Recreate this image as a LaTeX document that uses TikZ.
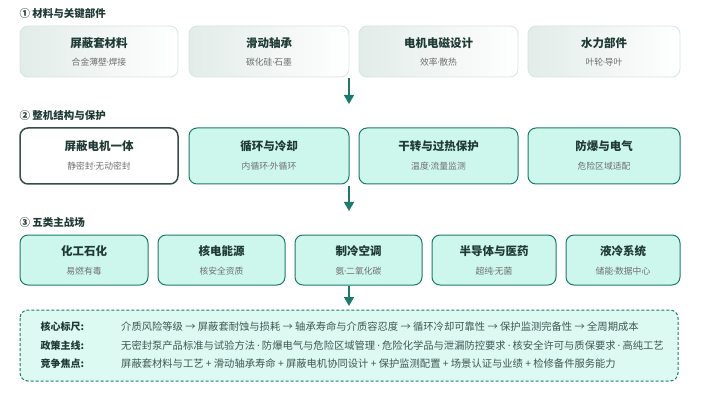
\documentclass[tikz,border=0pt]{standalone}
\usepackage{fontspec}
\setmainfont{Noto Sans CJK SC}
\newfontfamily\latinf{DejaVu Sans}
\newcommand{\dt}{{\latinf\kern-0.5pt·\kern-0.5pt}}
\usetikzlibrary{arrows.meta}
\definecolor{teal}{HTML}{1B7A6B}
\definecolor{mint}{HTML}{CDF7EC}
\definecolor{ink}{HTML}{1F3A34}
\definecolor{sub}{HTML}{707070}
\definecolor{pale}{HTML}{E2ECE9}
\definecolor{paleline}{HTML}{D6E6E1}
\tikzset{
  card/.style={rounded corners=8pt},
  title/.style={font=\fontsize{11.5}{13}\selectfont\bfseries, text=ink},
  subt/.style={font=\fontsize{8.8}{10}\selectfont, text=sub},
  sect/.style={font=\fontsize{10.5}{12}\selectfont\bfseries, text=ink, anchor=west},
  flow/.style={teal, line width=1.6pt, -{Triangle[length=9pt,width=10pt]}},
  lbl/.style={font=\fontsize{10}{11}\selectfont\bfseries, text=ink, anchor=west},
  txt/.style={font=\fontsize{10.3}{11}\selectfont, text=ink!85, anchor=west, inner sep=0pt}
}
\begin{document}
\begin{tikzpicture}[x=1pt,y=-1pt]
        \useasboundingbox (0,0) rectangle (702,401);
        % row 1
        \node[sect] (S1) at (16,14) {① 材料与关键部件};
        \foreach \xa/\xb/\t/\s [count=\i] in {20/178/屏蔽套材料/合金薄壁\dt 焊接, 189/349/滑动轴承/碳化硅\dt 石墨, 359/518/电机电磁设计/效率\dt 散热, 528/680/水力部件/叶轮\dt 导叶}{
                \shade[card, left color=pale, right color=white] (\xa,26) rectangle (\xb,77);
                \draw[card, paleline, line width=0.8pt] (\xa,26) rectangle (\xb,77);
                \node[title] (A\i) at ({(\xa+\xb)/2},43) {\t};
                \node[subt] (As\i) at ({(\xa+\xb)/2},62) {\s};
        }
        % row 2
        \node[sect] (S2) at (16,116) {② 整机结构与保护};
        \draw[card, fill=white, draw=ink!90, line width=1.5pt] (20,128) rectangle (178,184);
        \node[title] (B1) at (99,146) {屏蔽电机一体};
        \node[subt] (Bs1) at (99,166) {静密封\dt 无动密封};
        \foreach \xa/\xb/\t/\s [count=\i from 2] in {189/349/循环与冷却/内循环\dt 外循环, 359/518/干转与过热保护/温度\dt 流量监测, 528/680/防爆与电气/危险区域适配}{
                \draw[card, fill=mint, draw=teal, line width=1pt] (\xa,128) rectangle (\xb,184);
                \node[title] (B\i) at ({(\xa+\xb)/2},146) {\t};
                \node[subt] (Bs\i) at ({(\xa+\xb)/2},166) {\s};
        }
        % row 3
        \node[sect] (S3) at (16,222) {③ 五类主战场};
        \foreach \xa/\xb/\t/\s [count=\i] in {20/148/化工石化/易燃有毒, 158/285/核电能源/核安全资质, 295/422/制冷空调/氨\dt 二氧化碳, 432/556/半导体与医药/超纯\dt 无菌, 566/680/液冷系统/储能\dt 数据中心}{
                \draw[card, fill=mint, draw=teal, line width=1pt] (\xa,235) rectangle (\xb,285);
                \node[title] (C\i) at ({(\xa+\xb)/2},251) {\t};
                \node[subt] (Cs\i) at ({(\xa+\xb)/2},271) {\s};
        }
        % summary
        \draw[card, fill=mint!70, draw=teal, line width=1pt, dash pattern=on 3pt off 2pt] (20,310) rectangle (678,381);
        \node[lbl] (L1) at (37,327) {核心标尺:};
        \node[lbl] (L2) at (37,346) {政策主线:};
        \node[lbl] (L3) at (37,364) {竞争焦点:};
        \node[txt] (T1) at (121,327) {介质风险等级 → 屏蔽套耐蚀与损耗 → 轴承寿命与介质容忍度 → 循环冷却可靠性 → 保护监测完备性 → 全周期成本};
        \node[txt] (T2) at (121,346) {无密封泵产品标准与试验方法 \dt{} 防爆电气与危险区域管理 \dt{} 危险化学品与泄漏防控要求 \dt{} 核安全许可与质保要求 \dt{} 高纯工艺};
        \node[txt] (T3) at (121,364) {屏蔽套材料与工艺 + 滑动轴承寿命 + 屏蔽电机协同设计 + 保护监测配置 + 场景认证与业绩 + 检修备件服务能力};
        % arrows
        \coordinate (a1) at (349,78);  \coordinate (a2) at (349,104);
        \coordinate (b1) at (349,186); \coordinate (b2) at (349,211);
        \coordinate (c1) at (349,286); \coordinate (c2) at (349,306);
        \draw[flow] (a1) -- (a2);
        \draw[flow] (b1) -- (b2);
        \draw[flow] (c1) -- (c2);
\end{tikzpicture}
\end{document}
